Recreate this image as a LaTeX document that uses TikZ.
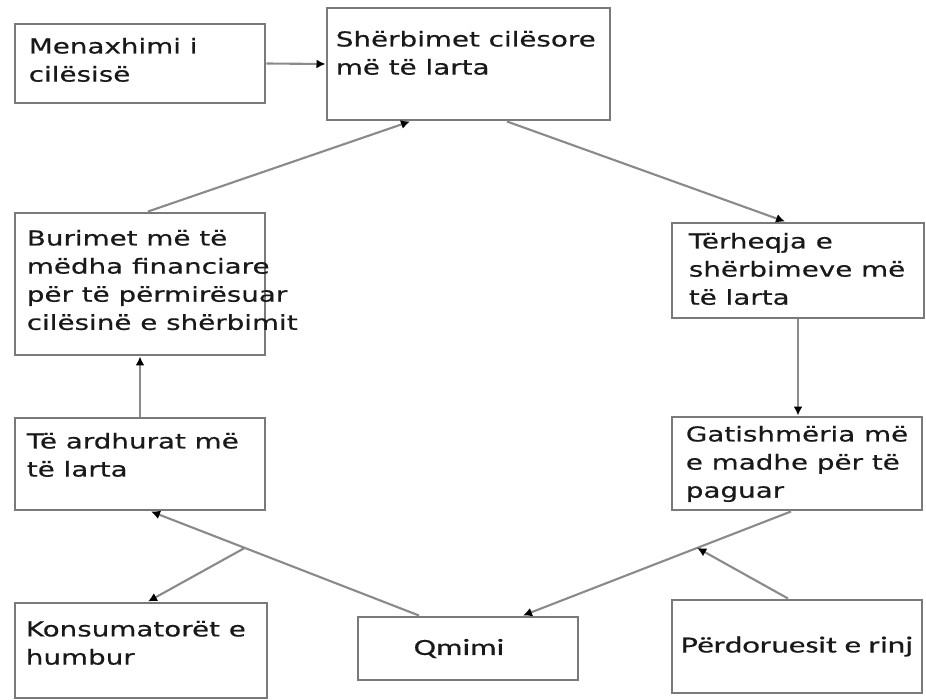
\documentclass[tikz,border=0pt]{standalone}
\usepackage{fontspec}
\setmainfont{DejaVu Sans}[FakeStretch=1.35,FakeBold=0.5]
\newfontfamily\calfont{Carlito}[FakeStretch=1.43,FakeBold=0.5]
\usepackage{tikz}
\usetikzlibrary{arrows.meta}

\definecolor{boxgray}{HTML}{7A7A7A}
\definecolor{arrgray}{HTML}{8A8A8A}
\tikzset{
  box/.style={draw=boxgray,line width=1.7pt,fill=white,rectangle,inner sep=0pt},
  lbl/.style={anchor=north west,inner sep=0pt,align=left,text=black!90,
    font={\fontsize{11.7}{16}\selectfont}},
  arr/.style={draw=arrgray,line width=1.2pt,-{Latex[length=1.8mm,width=1.8mm,black]}}
}

\begin{document}
\begin{tikzpicture}
\useasboundingbox (0,0) rectangle (18.52,-14);
% boxes
\node[box,minimum width=5cm,minimum height=1.58cm] (mena) at (2.80,-1.27) {};
\node[box,minimum width=5.66cm,minimum height=2.24cm] (serb) at (9.37,-1.28) {};
\node[box,minimum width=5cm,minimum height=2.84cm] (buri) at (2.80,-5.68) {};
\node[box,minimum width=5.04cm,minimum height=1.9cm] (terh) at (15.96,-5.41) {};
\node[box,minimum width=5cm,minimum height=1.84cm] (ardh) at (2.80,-9.28) {};
\node[box,minimum width=5cm,minimum height=1.86cm] (gati) at (15.94,-9.27) {};
\node[box,minimum width=5.04cm,minimum height=1.9cm] (kons) at (2.82,-13.01) {};
\node[box,minimum width=4.4cm,minimum height=1.26cm,font={\calfont\fontsize{13.2}{16}\selectfont},text=black!90] (qmim) at (9.36,-12.97) {\hspace*{-0.36cm}Qmimi};
\node[box,minimum width=5cm,minimum height=1.86cm,font={\calfont\fontsize{13.2}{16}\selectfont},text=black!90] (perd) at (15.94,-12.93) {Përdoruesit e rinj};
% texts
\node[lbl] (menat) at ([shift={(0.30,-0.30)}]mena.north west) {Menaxhimi i\\cilësisë};
\node[lbl] (serbt) at ([shift={(0.20,-0.48)}]serb.north west) {Shërbimet cilësore\\më të larta};
\node[lbl] (burit) at ([shift={(0.26,-0.36)}]buri.north west) {Burimet më të\\mëdha financiare\\për të përmirësuar\\cilësinë e shërbimit};
\node[lbl] (terht) at ([shift={(0.36,-0.22)}]terh.north west) {Tërheqja e\\shërbimeve më\\të larta};
\node[lbl] (ardht) at ([shift={(0.26,-0.32)}]ardh.north west) {Të ardhurat më\\të larta};
\node[lbl] (gatit) at ([shift={(0.30,-0.20)}]gati.north west) {Gatishmëria më\\e madhe për të\\paguar};
\node[lbl] (konst) at ([shift={(0.24,-0.38)}]kons.north west) {Konsumatorët e\\humbur};
% connectors
\draw[arr] (mena.east) -- (serb.west);
\draw[arr] ([xshift=0.16cm]buri.north) -- ([xshift=-1.17cm]serb.south);
\draw[arr] ([xshift=0.77cm]serb.south) -- ([xshift=-0.26cm]terh.north);
\draw[arr] (terh.south) -- (terh.south |- gati.north);
\draw[arr] (ardh.north) -- (ardh.north |- buri.south);
\draw[arr] ([xshift=-0.98cm]qmim.north) -- coordinate[pos=0.65] (brL) ([xshift=0.22cm]ardh.south);
\draw[arr] (brL) -- ([xshift=0.14cm]kons.north);
\draw[arr] ([xshift=-0.12cm]gati.south) -- coordinate[pos=0.35] (brR) ([xshift=1.1cm]qmim.north);
\draw[arr] ([xshift=-0.18cm]perd.north) -- (brR);
\end{tikzpicture}
\end{document}
